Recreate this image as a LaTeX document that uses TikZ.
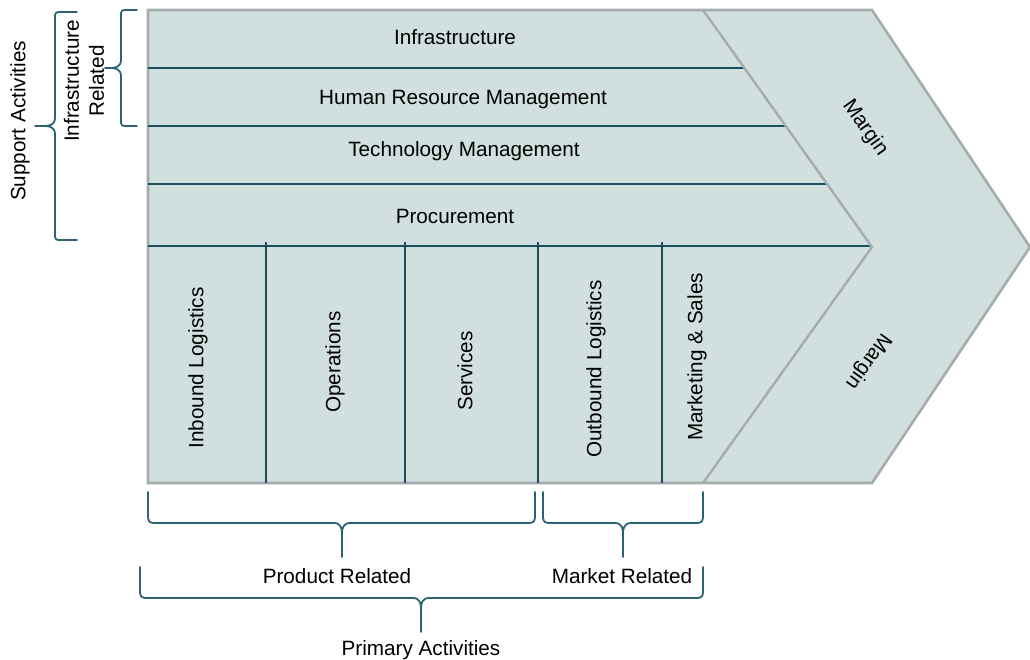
\documentclass[tikz,border=0pt]{standalone}
\usepackage{fontspec}
\setmainfont{Liberation Sans}
\definecolor{chainfill}{HTML}{D2DFDF}
\definecolor{chainedge}{HTML}{A4ACAC}
\definecolor{rowline}{HTML}{1A4E5E}
\definecolor{bracecol}{HTML}{2B6373}
\tikzset{
  outline/.style={draw=chainedge, line width=2.6pt, fill=chainfill, line join=miter},
  divider/.style={draw=chainedge, line width=2.4pt},
  rowsep/.style={draw=rowline, line width=1.5pt},
  brc/.style={draw=bracecol, line width=1.8pt, line join=round, line cap=round},
  lbl/.style={inner sep=0pt, font=\fontsize{20.7}{25}\selectfont},
}
\newcommand\VBr[6]{% xe, xs, xt, ytop, ymid, ybot
  \draw[brc] (#1,#4) -- ({#2+7},#4) .. controls (#2,#4) .. (#2,{#4+7})
    -- (#2,{#5-8}) .. controls (#2,{#5-1}) and ({#2-6},#5) .. ({#2-10},#5) -- (#3,#5)
    -- ({#2-10},#5) .. controls ({#2-6},#5) and (#2,{#5+1}) .. (#2,{#5+8})
    -- (#2,{#6-7}) .. controls (#2,#6) .. ({#2+7},#6) -- (#1,#6);}
\newcommand\HBr[6]{% xl, xr, xt, yend, yspine, ytip
  \draw[brc] (#1,#4) -- (#1,{#5-8}) .. controls (#1,{#5-1}) and ({#1+1},#5) .. ({#1+8},#5)
    -- ({#3-8},#5) .. controls ({#3-1},#5) and (#3,{#5+6}) .. (#3,{#5+10}) -- (#3,#6)
    -- (#3,{#5+10}) .. controls (#3,{#5+6}) and ({#3+1},#5) .. ({#3+8},#5)
    -- ({#2-8},#5) .. controls ({#2-1},#5) and (#2,{#5-1}) .. (#2,{#5-8}) -- (#2,#4);}
\begin{document}
\begin{tikzpicture}[x=1pt,y=-1pt]
\useasboundingbox (0,0) rectangle (1030,659);
% main chevron
\draw[outline] (148,10) -- (872,10) -- (1030,247) -- (872,483) -- (148,483) -- cycle;
% support rows
\draw[rowsep] (148,68) -- (744,68);
\draw[rowsep] (148,126) -- (786,126);
\draw[rowsep] (148,184) -- (827,184);
\draw[rowsep] (148,246) -- (871,246);
% primary columns
\foreach \x in {266,405,538,662} \draw[rowsep] (\x,242) -- (\x,483);
% inner margin edge
\draw[divider, line join=miter] (703,10) -- (872,247) -- (703,483);
% labels
\node[lbl] (infra) at (455,37) {Infrastructure};
\node[lbl] (hrm) at (463,100) {Human Resource Management};
\node[lbl] (tech) at (464,151) {Technology Management};
\node[lbl] (proc) at (455,216) {Procurement};
\node[lbl, rotate=90] (inb) at (198,368) {Inbound Logistics};
\node[lbl, rotate=90] (ops) at (335,362) {Operations};
\node[lbl, rotate=90] (serv) at (465,371) {Services};
\node[lbl, rotate=90] (outb) at (596,369) {Outbound Logistics};
\node[lbl, rotate=90] (mkt) at (697,357) {Marketing \& Sales};
\node[lbl, rotate=-54.5] (marg1) at (865,128) {Margin};
\node[lbl, rotate=234.5] (marg2) at (868,361) {Margin};
\node[lbl, rotate=90] (supp) at (20,121) {Support Activities};
\node[lbl, rotate=90, align=center] (infrel) at (84,81) {Infrastructure\\Related};
\node[lbl] (prodrel) at (337,576) {Product Related};
\node[lbl] (mktrel) at (622,576) {Market Related};
\node[lbl] (prim) at (421,650) {Primary Activities};
% braces
\VBr{77}{55}{35}{12}{126}{240}
\VBr{137}{121}{105}{10}{68}{126}
\HBr{148}{535}{342}{492}{523}{557}
\HBr{543}{703}{623}{492}{523}{557}
\HBr{140}{703}{421}{567}{598}{632}
\end{tikzpicture}
\end{document}
